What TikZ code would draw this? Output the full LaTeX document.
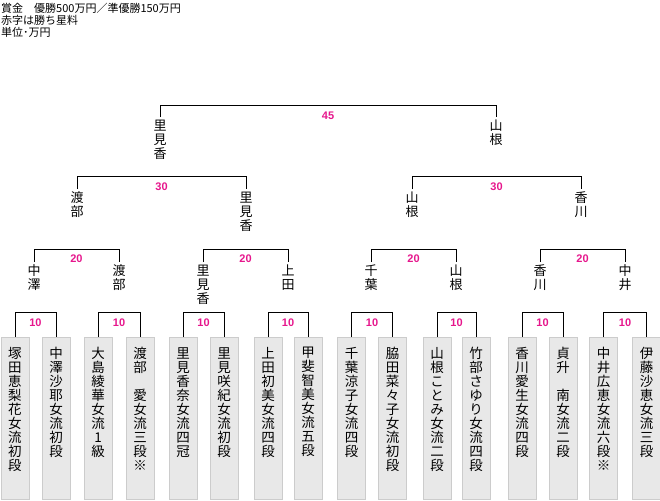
\documentclass[tikz,border=0pt]{standalone}
\usepackage{fontspec}
\newfontfamily\jp{Noto Sans CJK JP}
\newfontfamily\numf{Liberation Sans}
\definecolor{prize}{RGB}{230,22,140}
\ExplSyntaxOn
\cs_new_protected:Npn \myvt_stack:n #1 {\seq_clear:N \l_tmpa_seq \tl_map_inline:nn {#1}{\seq_put_right:Nn \l_tmpa_seq {##1}} \seq_use:Nn \l_tmpa_seq {\\}}
\NewDocumentCommand\vt{m}{\exp_args:No \myvt_stack:n {#1}}
\ExplSyntaxOff
\tikzset{
  conn/.style={line width=1pt, draw=black},
  playerbox/.style={draw=gray!40, fill=gray!18, minimum width=28pt, minimum height=162pt, anchor=north, inner sep=0pt},
  boxtext/.style={font=\jp\fontsize{13.5}{14}\selectfont, align=center, anchor=north, inner sep=0pt},
  winner/.style={font=\jp\fontsize{13}{14}\selectfont, align=center, anchor=north, inner sep=0pt, outer ysep=3pt},
  prizelbl/.style={font=\numf\bfseries\fontsize{11}{11}\selectfont, text=prize, inner sep=0pt},
}
\begin{document}
\begin{tikzpicture}[x=1pt,y=-1pt]
\useasboundingbox (0,0) rectangle (660,500);
\node[anchor=north west, align=left, inner sep=0pt, font=\jp\fontsize{11}{12}\selectfont] (hdr) at (1,3)
  {賞金　優勝500万円／準優勝150万円\\赤字は勝ち星料\\単位･万円};
% players
\foreach \i/\x/\t in {1/15/塚田恵梨花女流初段, 2/56/中澤沙耶女流初段, 3/98/大島綾華女流1級, 4/140/渡部　愛女流三段※,
  5/183/里見香奈女流四冠, 6/224/里見咲紀女流初段, 7/268/上田初美女流四段, 8/308/甲斐智美女流五段,
  9/351.5/千葉涼子女流四段, 10/392.5/脇田菜々子女流初段, 11/437/山根ことみ女流二段, 12/476/竹部さゆり女流四段,
  13/522/香川愛生女流四段, 14/563/貞升　南女流二段, 15/603.5/中井広恵女流六段※, 16/646.5/伊藤沙恵女流三段}{
  \node[playerbox] (p\i) at (\x,337) {};
  \node[boxtext] (t\i) at ([yshift=-10pt]p\i.north) {\vt{\t}};
}
% round 1 brackets
\foreach \a/\b in {1/2,3/4,5/6,7/8,9/10,11/12,13/14,15/16}{
  \draw[conn] (p\a.north) -- ++(0,-25) -| (p\b.north);
  \path (p\a.north) -- (p\b.north) node[midway, yshift=14pt, prizelbl] {10};
}
% round 2 winners
\foreach \i/\x/\t in {1/34/中澤, 2/119/渡部, 3/203/里見香, 4/288/上田, 5/371/千葉, 6/456/山根, 7/540/香川, 8/625/中井}{
  \node[winner] (w\i) at (\x,262) {\vt{\t}};
}
\foreach \a/\b in {1/2,3/4,5/6,7/8}{
  \draw[conn] (w\a.north) -- ++(0,-13) -| (w\b.north);
  \path (w\a.north) -- (w\b.north) node[midway, yshift=3pt, prizelbl] {20};
}
% round 3 winners
\foreach \i/\x/\t in {1/77/渡部, 2/246/里見香, 3/412/山根, 4/581/香川}{
  \node[winner] (s\i) at (\x,189) {\vt{\t}};
}
\foreach \a/\b in {1/2,3/4}{
  \draw[conn] (s\a.north) -- ++(0,-13) -| (s\b.north);
  \path (s\a.north) -- (s\b.north) node[midway, yshift=2pt, prizelbl] {30};
}
% final
\node[winner] (f1) at (160,117) {\vt{里見香}};
\node[winner] (f2) at (496,117) {\vt{山根}};
\draw[conn] (f1.north) -- ++(0,-12) -| (f2.north);
\path (f1.north) -- (f2.north) node[midway, yshift=1pt, prizelbl] {45};
\end{tikzpicture}
\end{document}
